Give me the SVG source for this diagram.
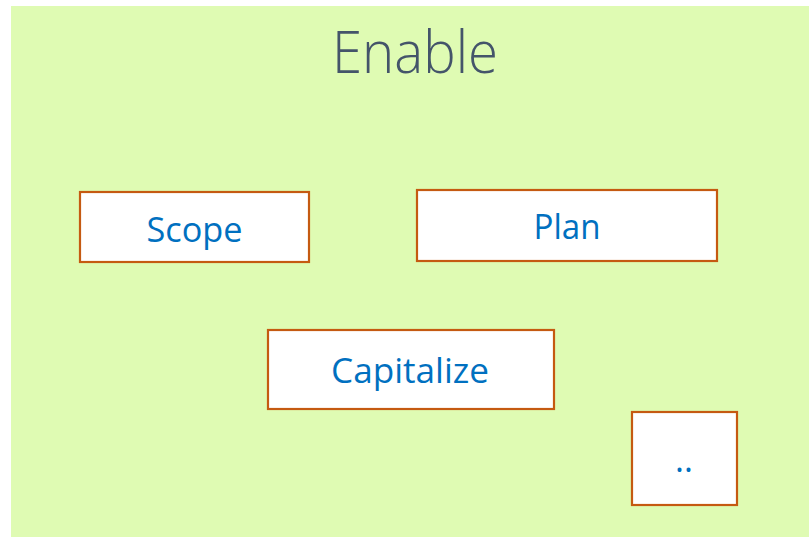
<svg xmlns="http://www.w3.org/2000/svg" width="809" height="537" viewBox="0 0 809 537">
<style>
.box{fill:#ffffff;stroke:#C55A11;stroke-width:2.2}
.lbl{font-family:"Open Sans","Noto Sans","Liberation Sans",sans-serif;font-size:34px;fill:#0070C0;text-anchor:middle}
.title{font-family:"Open Sans","Noto Sans","Liberation Sans",sans-serif;font-weight:300;font-size:58px;fill:#44546A;text-anchor:middle}
</style>
<rect x="0" y="0" width="809" height="537" fill="#ffffff"/>
<rect x="11" y="6" width="798" height="531" fill="#DFFBB3"/>
<text class="title" x="415" y="73" textLength="166" lengthAdjust="spacingAndGlyphs">Enable</text>
<g id="connectors"></g>
<g id="scope">
<rect class="box" x="80" y="192" width="229" height="70"/>
<text class="lbl" x="194.5" y="242" textLength="96" lengthAdjust="spacingAndGlyphs">Scope</text>
</g>
<g id="plan">
<rect class="box" x="417" y="190" width="300" height="71"/>
<text class="lbl" x="567" y="239" textLength="67" lengthAdjust="spacingAndGlyphs">Plan</text>
</g>
<g id="capitalize">
<rect class="box" x="268" y="330" width="286" height="79"/>
<text class="lbl" x="410" y="383" textLength="158" lengthAdjust="spacingAndGlyphs">Capitalize</text>
</g>
<g id="more">
<rect class="box" x="632" y="412" width="105" height="93"/>
<text class="lbl" x="684" y="472">..</text>
</g>
</svg>
